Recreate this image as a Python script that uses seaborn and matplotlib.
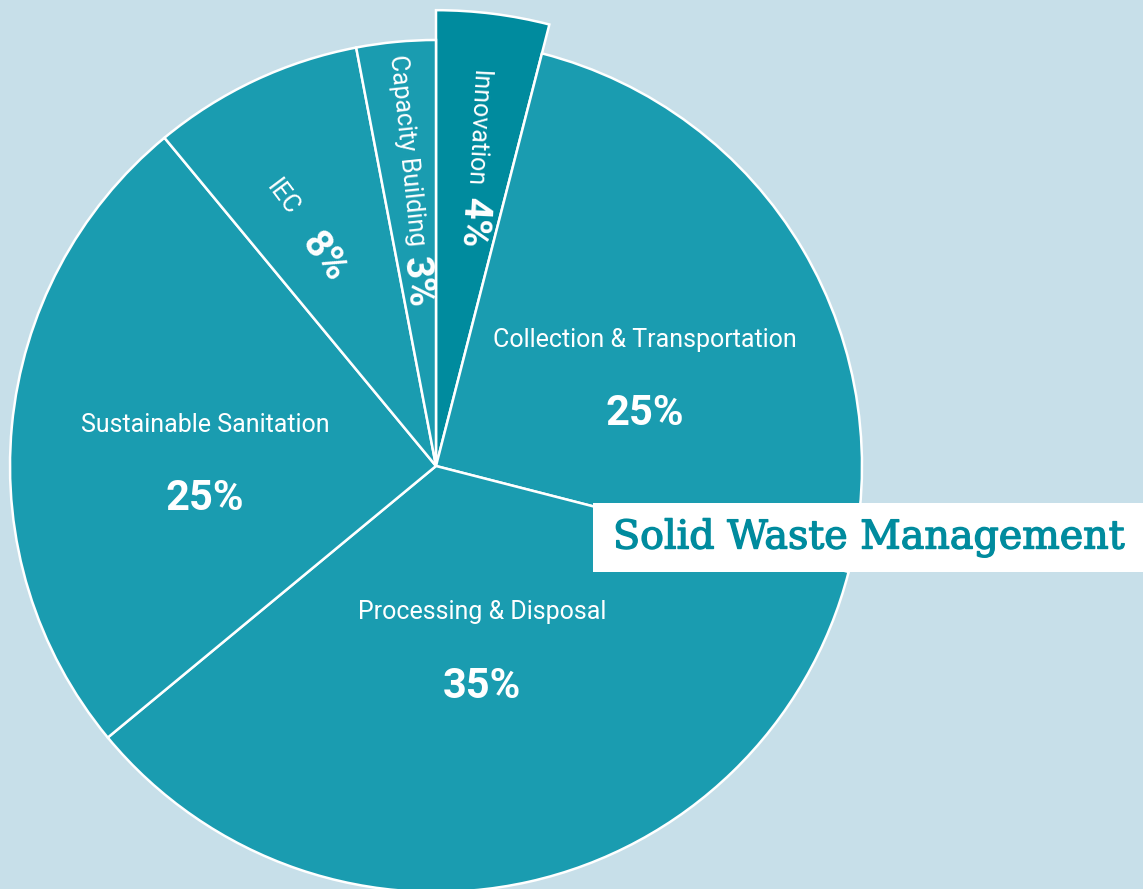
import matplotlib
matplotlib.use("Agg")
import matplotlib.pyplot as plt
import matplotlib.patheffects as pe
import seaborn as sns
from matplotlib.patches import Rectangle

# --- data ---
categories = ["Innovation", "Collection & Transportation", "Processing & Disposal",
              "Sustainable Sanitation", "IEC", "Capacity Building"]
shares = [4, 25, 35, 25, 8, 3]
pct_labels = [f"{v}%" for v in shares]
title = "Solid Waste Management"

bg = "#c7dfe9"
teal = "#1a9cb0"
teal_dark = "#008b9e"

sns.set_theme(style="white")
plt.rcParams['font.family'] = ['Roboto', 'DejaVu Sans']

W, H = 1143, 889
R = 426          # pie radius in pixels
cx, cy = 436, 466  # pie centre in pixels

fig = plt.figure(figsize=(W / 100, H / 100), dpi=100, facecolor=bg)
ax = fig.add_axes([0, 0, 1, 1])
ax.set_facecolor(bg)

colors = [teal_dark] + [teal] * (len(shares) - 1)
wedges, _ = ax.pie(shares, colors=colors, startangle=90, counterclock=False,
                   wedgeprops=dict(edgecolor="white", linewidth=1.8))
# innovation slice sticks out
wedges[0].set_radius(1.07)

ax.set_xlim(-cx / R, (W - cx) / R)
ax.set_ylim(-(H - cy) / R, cy / R)
ax.set_aspect("auto")
ax.axis("off")


def P(px, py):
    # pixel -> data coords
    return (px - cx) / R, (cy - py) / R


# big slices: name above, percentage below
big = {1: ((645, 340), (645, 413)),
       2: ((482, 612), (482, 687)),
       3: ((205, 425), (205, 498))}
for i, (npos, ppos) in big.items():
    ax.text(*P(*npos), categories[i], color="white", fontsize=18, fontweight="normal",
            ha="center", va="center")
    ax.text(*P(*ppos), pct_labels[i], color="white", fontsize=30, fontweight="bold",
            ha="center", va="center")

# thin slices: rotated along the slice
thin = {4: ((283, 198), (324, 257), -53),
        5: ((407, 150), (417, 282), -84),
        0: ((477, 129), (473, 223), -93)}
for i, (npos, ppos, rot) in thin.items():
    ax.text(*P(*npos), categories[i], color="white", fontsize=18,
            fontweight="normal", ha="center", va="center", rotation=rot,
            rotation_mode="anchor")
    ax.text(*P(*ppos), pct_labels[i], color="white", fontsize=28, fontweight="bold",
            ha="center", va="center", rotation=rot, rotation_mode="anchor")

# title box
x0, y0 = P(593, 572)
x1, y1 = P(W + 5, 503)
ax.add_patch(Rectangle((x0, y0), x1 - x0, y1 - y0, facecolor="white",
                       edgecolor="none", zorder=5))
ax.text(*P(613, 538), title, color=teal_dark, fontsize=28.5, fontweight="normal",
        family=["DejaVu Serif"], ha="left", va="center", zorder=6,
        path_effects=[pe.withStroke(linewidth=1.0, foreground=teal_dark)])

plt.savefig("out.png", dpi=100, facecolor=bg)
